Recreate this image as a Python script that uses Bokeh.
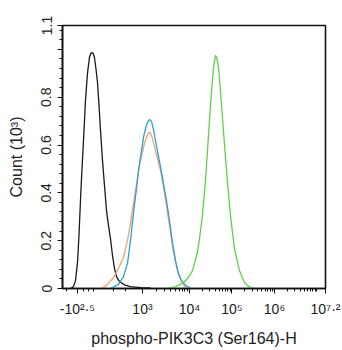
import math
from bokeh.plotting import figure
from bokeh.models import FixedTicker, Range1d
from bokeh.embed import file_html
from bokeh.resources import INLINE

# x: position on the biexponential display axis (in decade units), y: count (x10^3)
black_x = [1.200, 1.271, 1.318, 1.365, 1.400, 1.435, 1.459, 1.506, 1.553, 1.600, 1.647, 1.682,
           1.729, 1.765, 1.800, 1.835, 1.871, 1.906, 1.953, 2.000, 2.047, 2.094, 2.141, 2.188,
           2.235, 2.282, 2.353, 2.471, 2.612, 2.847, 3.082]
black_y = [0.000, 0.008, 0.033, 0.109, 0.222, 0.368, 0.460, 0.619, 0.787, 0.900, 0.968, 0.985,
           0.985, 0.965, 0.918, 0.862, 0.766, 0.661, 0.536, 0.431, 0.326, 0.264, 0.209, 0.138,
           0.084, 0.050, 0.029, 0.015, 0.008, 0.004, 0.002]

orange_x = [1.906, 2.047, 2.212, 2.329, 2.447, 2.541, 2.612, 2.682, 2.769, 2.824, 2.887, 2.941,
            2.988, 3.035, 3.071, 3.106, 3.153, 3.200, 3.247, 3.318, 3.388, 3.459, 3.529, 3.600,
            3.671, 3.741, 3.812, 3.882, 3.976]
orange_y = [0.000, 0.013, 0.046, 0.084, 0.130, 0.201, 0.272, 0.356, 0.452, 0.515, 0.565, 0.607,
            0.632, 0.649, 0.653, 0.640, 0.611, 0.577, 0.544, 0.494, 0.427, 0.347, 0.264, 0.176,
            0.109, 0.059, 0.029, 0.008, 0.000]

blue_x = [2.141, 2.329, 2.447, 2.541, 2.612, 2.682, 2.753, 2.800, 2.871, 2.918, 2.965, 3.012,
          3.059, 3.106, 3.153, 3.200, 3.247, 3.318, 3.388, 3.459, 3.529, 3.600, 3.671, 3.741,
          3.812, 3.906, 4.024]
blue_y = [0.000, 0.017, 0.050, 0.105, 0.201, 0.314, 0.418, 0.494, 0.577, 0.632, 0.669, 0.695,
          0.707, 0.699, 0.665, 0.619, 0.573, 0.510, 0.439, 0.368, 0.285, 0.192, 0.117, 0.063,
          0.033, 0.013, 0.002]

green_x = [3.506, 3.671, 3.859, 3.976, 4.071, 4.181, 4.235, 4.299, 4.341, 4.376, 4.416, 4.454,
           4.494, 4.534, 4.572, 4.612, 4.647, 4.689, 4.729, 4.769, 4.807, 4.847, 4.887, 4.926,
           4.965, 5.005, 5.059, 5.122, 5.176, 5.240, 5.294, 5.358, 5.435, 5.553]
green_y = [0.000, 0.008, 0.025, 0.046, 0.075, 0.146, 0.209, 0.297, 0.377, 0.452, 0.556, 0.661,
           0.766, 0.858, 0.933, 0.975, 0.962, 0.912, 0.828, 0.732, 0.640, 0.548, 0.460, 0.381,
           0.305, 0.243, 0.167, 0.117, 0.075, 0.046, 0.025, 0.013, 0.004, 0.000]

# axis ticks
x_major_ticks = [1.365, 2.894, 4.0, 5.0, 6.0, 7.2]
x_tick_labels = ["-10\u00b2\u00b7\u2075", "10\u00b3", "10\u2074", "10\u2075", "10\u2076",
                 "10\u2077\u00b7\u00b2"]
y_major_ticks = [0, 0.2, 0.4, 0.6, 0.8, 1.0, 1.1]
y_tick_labels = ["0", "0.2", "0.4", "0.6", "0.8", "", "1.1"]

x_title = "phospho-PIK3C3 (Ser164)-H"
y_title = "Count (10\u00b3)"

FONT = "Liberation Sans"

p = figure(width=342, height=350, output_backend="svg", toolbar_location=None,
           x_range=Range1d(1.012, 7.2), y_range=Range1d(0, 1.1),
           min_border_left=62, min_border_right=17, min_border_top=25, min_border_bottom=62)
p.background_fill_color = "white"
p.border_fill_color = "white"
p.grid.visible = False
p.outline_line_color = "#111111"
p.outline_line_width = 1.6

# minor ticks on x: linear zone near zero and log decades
x_minor = [1.10, 1.506, 1.624, 1.741, 2.212, 2.494]
for k in range(2, 10):
    x_minor.append(2.894 + 1.106 * math.log10(k))
for d in (4, 5, 6):
    for k in range(2, 10):
        x_minor.append(d + math.log10(k))
x_minor.append(7.0)

p.xaxis.ticker = FixedTicker(ticks=x_major_ticks, minor_ticks=x_minor)
p.xaxis.major_label_overrides = {t: s for t, s in zip(x_major_ticks, x_tick_labels)}
p.yaxis.ticker = FixedTicker(ticks=y_major_ticks,
                             minor_ticks=[round(i * 0.04, 2) for i in range(0, 28)])
p.yaxis.major_label_overrides = {t: s for t, s in zip(y_major_ticks, y_tick_labels)}
p.yaxis.major_label_orientation = "vertical"
for ax in (p.xaxis, p.yaxis):
    ax.axis_line_color = "#111111"
    ax.axis_line_width = 1.6
    ax.major_tick_line_color = "#111111"
    ax.minor_tick_line_color = "#111111"
    ax.major_tick_in = 0
    ax.major_tick_out = 5
    ax.minor_tick_in = 0
    ax.minor_tick_out = 3
    ax.major_label_text_font = FONT
    ax.major_label_text_font_size = "14px"
    ax.major_label_text_color = "#222222"
    ax.axis_label_text_font = FONT
    ax.axis_label_text_font_size = "16px"
    ax.axis_label_text_font_style = "normal"
    ax.axis_label_text_color = "#222222"
p.xaxis.axis_label = x_title
p.yaxis.axis_label = y_title
p.xaxis.major_label_standoff = 7
p.xaxis.axis_label_standoff = 10
p.yaxis.major_label_standoff = 6
p.yaxis.axis_label_standoff = 14

for xs, ys, col in ((black_x, black_y, "#1a1a1a"),
                    (orange_x, orange_y, "#eba274"),
                    (blue_x, blue_y, "#2f9fd4"),
                    (green_x, green_y, "#5fd04c")):
    p.line(xs, ys, line_color=col, line_width=1.3)

open("out.html", "w").write(file_html(p, INLINE))
